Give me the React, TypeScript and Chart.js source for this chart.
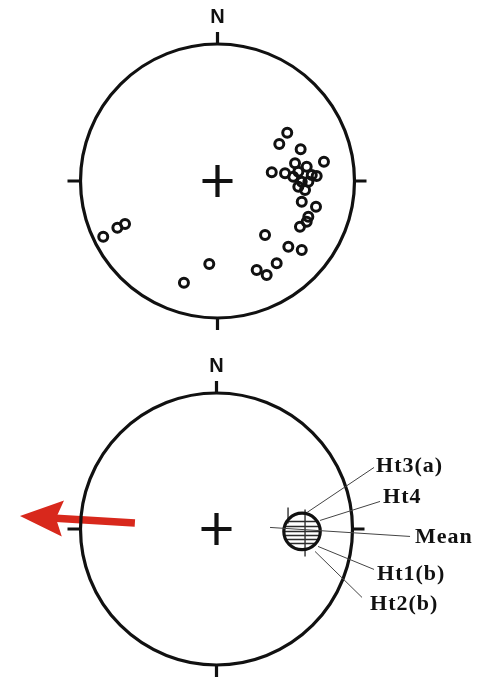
import React, { useEffect, useRef } from "react";
import { Chart, registerables } from "chart.js";

Chart.register(...registerables);

// Poles plotted on the upper net (unit-circle coordinates, x = east, y = north)
const poleX = [
  0.509, 0.451, 0.607, 0.777, 0.566, 0.396, 0.493, 0.59, 0.651, 0.553,
  0.688, 0.724, 0.663, 0.615, 0.59, 0.639, 0.615, 0.719, 0.663, 0.602,
  0.651, 0.347, 0.517, 0.615, 0.432, 0.286, 0.359, -0.06, -0.245, -0.834,
  -0.731, -0.675,
];
const poleY = [
  0.353, 0.27, 0.231, 0.141, 0.129, 0.064, 0.056, 0.068, 0.104, 0.031,
  0.044, 0.036, -0.005, -0.005, -0.042, -0.066, -0.151, -0.188, -0.261, -0.334,
  -0.297, -0.394, -0.48, -0.504, -0.601, -0.65, -0.686, -0.606, -0.742, -0.407,
  -0.341, -0.314,
];

// Lower net: mean direction with its confidence cone, and the group labels
const meanX = [0.629];
const meanY = [-0.018];
const alpha95 = [0.134];
const groupLabels = ["Ht3(a)", "Ht4", "Mean", "Ht1(b)", "Ht2(b)"];

// Shortening arrow (tail and tip, unit-circle coordinates)
const arrowX = [-0.6, -1.445];
const arrowY = [0.044, 0.096];

const INK = "#111";
const RED = "#d8281c";

const W = 487;
const H = 339;

function netGeometry(chart: any) {
  const { x, y } = chart.scales;
  const cx = x.getPixelForValue(0);
  const cy = y.getPixelForValue(0);
  const rx = x.getPixelForValue(1) - cx;
  const ry = cy - y.getPixelForValue(1);
  return { x, y, cx, cy, rx, ry };
}

function drawNet(chart: any) {
  const ctx: CanvasRenderingContext2D = chart.ctx;
  const { cx, cy, rx, ry } = netGeometry(chart);
  ctx.save();
  ctx.strokeStyle = INK;
  ctx.lineWidth = 3.2;
  ctx.beginPath();
  ctx.ellipse(cx, cy, rx, ry, 0, 0, Math.PI * 2);
  ctx.stroke();

  // N, E, S, W ticks
  ctx.beginPath();
  ctx.moveTo(cx, cy - ry);
  ctx.lineTo(cx, cy - ry - 12);
  ctx.moveTo(cx, cy + ry);
  ctx.lineTo(cx, cy + ry + 12);
  ctx.moveTo(cx - rx, cy);
  ctx.lineTo(cx - rx - 13, cy);
  ctx.moveTo(cx + rx, cy);
  ctx.lineTo(cx + rx + 12, cy);
  ctx.stroke();

  // centre cross
  ctx.lineWidth = 4.2;
  ctx.beginPath();
  ctx.moveTo(cx - 15, cy);
  ctx.lineTo(cx + 15, cy);
  ctx.moveTo(cx, cy - 16);
  ctx.lineTo(cx, cy + 16);
  ctx.stroke();

  ctx.fillStyle = INK;
  ctx.font = "bold 20px 'Liberation Sans', Arial, sans-serif";
  ctx.textAlign = "center";
  ctx.textBaseline = "middle";
  ctx.fillText("N", cx, cy - ry - 27);
  ctx.restore();
}

const upperNetPlugin = {
  id: "upperNet",
  beforeDatasetsDraw(chart: any) {
    drawNet(chart);
  },
};

// leader layout around the confidence circle: start, end, text anchor (px offsets)
const leaderLayout = [
  { s: [5, -19], e: [72, -64], t: [74, -65.5] },
  { s: [18, -11], e: [78, -30], t: [81, -34] },
  { s: [-32, -4], e: [108, 5], t: [113, 6] },
  { s: [16, 15], e: [72, 38], t: [75, 42.5] },
  { s: [13, 20], e: [60, 66], t: [68, 72.5] },
];

const lowerNetPlugin = {
  id: "lowerNet",
  beforeDatasetsDraw(chart: any) {
    const ctx: CanvasRenderingContext2D = chart.ctx;
    const { x, y } = netGeometry(chart);

    // shortening arrow, drawn under the primitive
    const tx = x.getPixelForValue(arrowX[0]);
    const ty = y.getPixelForValue(arrowY[0]);
    const hx = x.getPixelForValue(arrowX[1]);
    const hy = y.getPixelForValue(arrowY[1]);
    const ang = Math.atan2(hy - ty, hx - tx);
    const ux = Math.cos(ang);
    const uy = Math.sin(ang);
    const px = -uy;
    const py = ux;
    const headLen = 43;
    const notch = 36;
    const half = 18;
    ctx.save();
    ctx.fillStyle = RED;
    ctx.strokeStyle = RED;
    ctx.lineWidth = 7.5;
    ctx.beginPath();
    ctx.moveTo(tx, ty);
    ctx.lineTo(hx - ux * notch, hy - uy * notch);
    ctx.stroke();
    ctx.beginPath();
    ctx.moveTo(hx, hy);
    ctx.lineTo(hx - ux * headLen + px * half, hy - uy * headLen + py * half);
    ctx.lineTo(hx - ux * notch, hy - uy * notch);
    ctx.lineTo(hx - ux * headLen - px * half, hy - uy * headLen - py * half);
    ctx.closePath();
    ctx.fill();
    ctx.restore();

    drawNet(chart);

    // confidence cone about the mean
    const mx = x.getPixelForValue(meanX[0]);
    const my = y.getPixelForValue(meanY[0]);
    const r = x.getPixelForValue(meanX[0] + alpha95[0]) - mx;
    ctx.save();
    ctx.strokeStyle = INK;
    ctx.beginPath();
    ctx.arc(mx, my, r, 0, Math.PI * 2);
    ctx.save();
    ctx.clip();
    ctx.lineWidth = 1.5;
    ctx.strokeStyle = "#2a2a2a";
    ctx.beginPath();
    for (const dy of [-10, -5, 0, 4, 8, 12]) {
      ctx.moveTo(mx - r, my + dy);
      ctx.lineTo(mx + r, my + dy);
    }
    ctx.stroke();
    ctx.restore();

    ctx.lineWidth = 1.4;
    ctx.strokeStyle = "#333";
    ctx.beginPath();
    ctx.moveTo(mx + 3, my - 22);
    ctx.lineTo(mx + 3, my + 25);
    ctx.moveTo(mx - 14, my - 24);
    ctx.lineTo(mx - 14, my - 8);
    ctx.stroke();

    ctx.lineWidth = 3.2;
    ctx.strokeStyle = INK;
    ctx.beginPath();
    ctx.arc(mx, my, r, 0, Math.PI * 2);
    ctx.stroke();

    // leaders and labels
    ctx.lineWidth = 1;
    ctx.strokeStyle = "#444";
    ctx.fillStyle = "#111";
    ctx.font = "bold 22px 'Liberation Serif', 'Times New Roman', serif";
    (ctx as any).letterSpacing = "1px";
    ctx.textAlign = "left";
    ctx.textBaseline = "middle";
    groupLabels.forEach((label, i) => {
      const L = leaderLayout[i];
      ctx.beginPath();
      ctx.moveTo(mx + L.s[0], my + L.s[1]);
      ctx.lineTo(mx + L.e[0], my + L.e[1]);
      ctx.stroke();
      ctx.fillText(label, mx + L.t[0], my + L.t[1]);
    });
    ctx.restore();
  },
};

function baseOptions(padding: any) {
  return {
    responsive: false,
    animation: false as const,
    maintainAspectRatio: false,
    layout: { padding },
    plugins: { legend: { display: false }, tooltip: { enabled: false } },
    scales: {
      x: { type: "linear" as const, min: -1, max: 1, display: false },
      y: { type: "linear" as const, min: -1, max: 1, display: false },
    },
  };
}

export default function App() {
  const topRef = useRef<HTMLCanvasElement>(null);
  const bottomRef = useRef<HTMLCanvasElement>(null);

  useEffect(() => {
    const top = new Chart(topRef.current!, {
      type: "scatter",
      data: {
        datasets: [
          {
            data: poleX.map((v, i) => ({ x: v, y: poleY[i] })),
            pointStyle: "circle",
            pointRadius: 4.5,
            borderWidth: 3,
            borderColor: INK,
            backgroundColor: "rgba(0,0,0,0)",
          },
        ],
      },
      options: baseOptions({ left: 80.5, right: 132.5, top: 44, bottom: 21 }),
      plugins: [upperNetPlugin],
    });

    const bottom = new Chart(bottomRef.current!, {
      type: "scatter",
      data: {
        datasets: [
          {
            data: meanX.map((v, i) => ({ x: v, y: meanY[i] })),
            pointRadius: 0,
          },
        ],
      },
      options: baseOptions({ left: 80.5, right: 134.5, top: 54, bottom: 13 }),
      plugins: [lowerNetPlugin],
    });

    return () => {
      top.destroy();
      bottom.destroy();
    };
  }, []);

  return (
    <div
      style={{
        position: "absolute",
        left: 0,
        top: 0,
        width: W,
        height: 2 * H,
        background: "#fff",
        overflow: "hidden",
      }}
    >
      <canvas ref={topRef} width={W} height={H} style={{ display: "block", width: W, height: H }} />
      <canvas ref={bottomRef} width={W} height={H} style={{ display: "block", width: W, height: H }} />
    </div>
  );
}
